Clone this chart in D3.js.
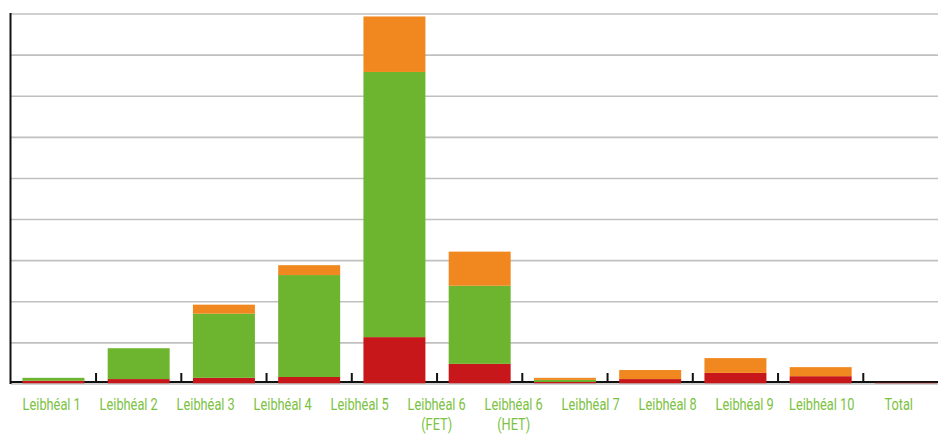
<!DOCTYPE html>
<html>
<head>
<meta charset="utf-8">
<script src="https://cdn.jsdelivr.net/npm/d3@7"></script>
<style>
  body { margin: 0; background: #fff; }
  svg { display: block; }
  .lbl { font-family: Roboto, "Liberation Sans", sans-serif; font-size: 16px; fill: #7cc242; }
</style>
</head>
<body>
<svg width="938" height="435"></svg>
<script>
var categories = ['Leibhéal 1', 'Leibhéal 2', 'Leibhéal 3', 'Leibhéal 4', 'Leibhéal 5',
                  'Leibhéal 6\n(FET)', 'Leibhéal 6\n(HET)', 'Leibhéal 7', 'Leibhéal 8',
                  'Leibhéal 9', 'Leibhéal 10', 'Total'];
// stacked from the bottom: red, green, orange
var redValues    = [0.8, 1.2, 1.5, 1.7, 11.4, 4.9, 0.5, 1.2, 2.7, 1.9, 0.3, 28.1];
var greenValues  = [0.7, 7.5, 15.6, 24.8, 64.5, 19.0, 0.5, 0, 0, 0, 0, 132.6];
var orangeValues = [0, 0, 2.2, 2.4, 13.5, 8.3, 0.5, 2.2, 3.6, 2.2, 0, 34.9];
var gridTicks = [10, 20, 30, 40, 50, 60, 70, 80, 90];

var seriesKeys = ['red', 'green', 'orange'];
var colors = {red: '#c8171a', green: '#6db42f', orange: '#f0881f'};

var table = categories.map(function(c, i) {
    return {cat: c, red: redValues[i], green: greenValues[i], orange: orangeValues[i]};
});

var svg = d3.select('svg');

var x0 = 10.8, step = 85.25;
// bars run past the right edge (the Total column is cut off)
var xScale = d3.scaleBand()
    .domain(categories)
    .range([x0, x0 + step * categories.length])
    .paddingInner(0.273)
    .paddingOuter(0.1365);

// labels are laid out over the visible width only
var labelScale = d3.scaleBand()
    .domain(categories)
    .range([13.2, 937.2]);

var yScale = d3.scaleLinear()
    .domain([0, 90])
    .range([384, 14]);

// gridlines
svg.append('g')
    .selectAll('line')
    .data(gridTicks)
    .enter()
    .append('line')
    .attr('x1', 11)
    .attr('x2', 938)
    .attr('y1', function(d) { return yScale(d); })
    .attr('y2', function(d) { return yScale(d); })
    .attr('stroke', '#c0c0c0')
    .attr('stroke-width', 1.6);

// black x axis line (under bars)
svg.append('line')
    .attr('x1', 10).attr('x2', 938)
    .attr('y1', yScale(0) - 2).attr('y2', yScale(0) - 2)
    .attr('stroke', '#111').attr('stroke-width', 2);

// tick marks between categories
svg.append('g')
    .selectAll('line')
    .data(categories.slice(1))
    .enter()
    .append('line')
    .attr('x1', function(d) { return xScale(d) - xScale.step() * xScale.paddingInner() / 2; })
    .attr('x2', function(d) { return xScale(d) - xScale.step() * xScale.paddingInner() / 2; })
    .attr('y1', yScale(0) - 11)
    .attr('y2', yScale(0) - 1)
    .attr('stroke', '#111')
    .attr('stroke-width', 2);

var stack = d3.stack().keys(seriesKeys);
var layers = stack(table);

svg.append('g')
    .selectAll('g')
    .data(layers)
    .enter()
    .append('g')
    .attr('fill', function(d) { return colors[d.key]; })
    .selectAll('rect')
    .data(function(d) { return d; })
    .enter()
    .append('rect')
    .attr('x', function(d) { return xScale(d.data.cat); })
    .attr('width', xScale.bandwidth())
    .attr('y', function(d) { return yScale(d[1]); })
    .attr('height', function(d) { return yScale(d[0]) - yScale(d[1]); });

// grey base line
svg.append('line')
    .attr('x1', 11).attr('x2', 938)
    .attr('y1', yScale(0)).attr('y2', yScale(0))
    .attr('stroke', '#c0c0c0').attr('stroke-width', 1.6);

// left axis line
svg.append('line')
    .attr('x1', 10.5).attr('x2', 10.5)
    .attr('y1', 13).attr('y2', yScale(0))
    .attr('stroke', '#111').attr('stroke-width', 2);

// category labels, narrow type
var labels = svg.append('g')
    .selectAll('text')
    .data(categories)
    .enter()
    .append('text')
    .attr('class', 'lbl')
    .attr('text-anchor', 'middle')
    .attr('transform', function(d) {
        return 'translate(' + (labelScale(d) + labelScale.bandwidth() / 2) + ',410) scale(0.8,1)';
    });

labels.selectAll('tspan')
    .data(function(d) { return d.split('\n'); })
    .enter()
    .append('tspan')
    .attr('x', 0)
    .attr('dy', function(d, i) { return i === 0 ? 0 : 20; })
    .text(function(d) { return d; });
</script>
</body>
</html>
